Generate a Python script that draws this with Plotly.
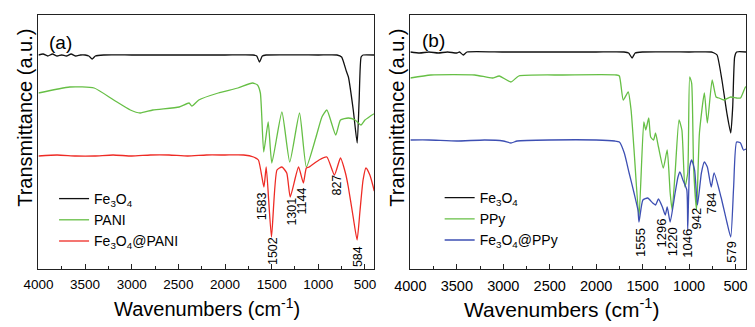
import plotly.graph_objects as go

# ---------------- Panel (a) data ----------------
a_fe_wn = [4000, 3950, 3900, 3850, 3800, 3750, 3700, 3650, 3600, 3550, 3500, 3460, 3424, 3390, 3300, 3000, 2500,
           2000, 1700, 1660, 1631, 1600, 1560, 1000, 800, 750, 700, 677, 625, 583, 562, 541, 520, 400]
a_fe_t = [214, 215, 213, 215, 213, 214, 213, 215, 213, 214, 214, 213, 210, 213, 214, 214, 214,
          214, 214, 213, 207, 213, 214, 214, 214, 212, 198, 192, 159, 126, 169, 212, 214, 214]

a_pani_wn = [4000, 3665, 3403, 3193, 3015, 2910, 2774, 2491, 2386, 2355, 2281, 2072, 1862, 1705, 1652, 1621,
             1585, 1537, 1498, 1390, 1306, 1201, 1128, 1024, 961, 908, 813, 762, 678, 605, 542, 500, 406, 400]
a_pani_t = [176, 182, 181, 169, 159, 156, 159, 162, 166, 163, 169, 176, 181, 186, 184, 176,
            117, 147, 106, 157, 107, 156, 102, 132, 152, 159, 134, 149, 151, 149, 144, 149, 155, 155]

a_comp_wn = [4000, 3800, 3600, 3400, 3200, 3000, 2800, 2600, 2400, 2200, 2000, 1800, 1694, 1642, 1583, 1558,
             1502, 1443, 1390, 1338, 1301, 1212, 1160, 1128, 1097, 992, 908, 827, 762, 709, 678, 626, 584,
             552, 520, 489, 447, 416, 400]
a_comp_t = [113, 114, 113, 113, 114, 113, 114, 114, 113, 114, 114, 114, 112, 109, 82, 102,
            32, 99, 102, 96, 72, 102, 86, 101, 102, 109, 112, 94, 111, 96, 82, 52, 29,
            59, 89, 101, 94, 84, 78]

a_peak_labels = ["1583", "1502", "1301", "1144", "827", "584"]
a_peak_wn = [1600, 1485, 1286, 1170, 804, 573]
a_peak_t = [63, 18, 57, 68, 84, 12]

# ---------------- Panel (b) data ----------------
b_fe_wn = [4000, 3900, 3800, 3700, 3600, 3500, 3470, 3432, 3390, 3000, 2500, 2000, 1700, 1650, 1613, 1580,
           1500, 1000, 760, 730, 698, 646, 593, 551, 530, 509, 488, 385]
b_fe_t = [217, 216, 217, 216, 217, 216, 217, 214, 217, 217, 217, 217, 217, 216, 211, 216,
          217, 217, 217, 216, 214, 189, 156, 136, 162, 212, 217, 217]

b_ppy_wn = [4000, 3779, 3306, 3117, 3043, 2917, 2833, 2360, 1781, 1750, 1708, 1655, 1624, 1592, 1539, 1487,
            1466, 1434, 1413, 1382, 1361, 1329, 1277, 1235, 1203, 1182, 1150, 1108, 1077, 1045, 1014, 993,
            972, 951, 919, 888, 835, 803, 751, 709, 677, 625, 551, 488, 446, 393, 385]
b_ppy_t = [191, 194, 194, 191, 193, 187, 193, 194, 194, 193, 169, 177, 159, 119, 52, 147,
           139, 151, 132, 129, 136, 122, 101, 119, 76, 59, 96, 149, 139, 82, 96, 192,
           186, 102, 59, 136, 176, 146, 189, 172, 171, 169, 172, 171, 171, 182, 182]

b_comp_wn = [4000, 3800, 3500, 3200, 3000, 2917, 2850, 2500, 2000, 1800, 1750, 1697, 1645, 1592, 1550, 1539,
             1497, 1445, 1392, 1361, 1329, 1287, 1256, 1235, 1203, 1150, 1119, 1098, 1066, 1024, 1014, 993,
             972, 940, 909, 867, 835, 803, 761, 730, 656, 593, 551, 520, 488, 446, 415, 385]
b_comp_t = [129, 129, 128, 129, 128, 126, 128, 129, 129, 128, 127, 116, 96, 76, 59, 47,
            69, 71, 66, 64, 70, 62, 54, 62, 47, 76, 92, 97, 89, 79, 39, 102,
            109, 99, 64, 96, 107, 102, 82, 96, 72, 47, 32, 82, 127, 126, 119, 120]

b_peak_labels = ["1555", "1296", "1220", "1046", "942", "784", "579"]
b_peak_wn = [1518, 1287, 1171, 1014, 919, 751, 541]
b_peak_t = [27, 36, 27, 26, 50, 66, 17]

x_ticks = [4000, 3500, 3000, 2500, 2000, 1500, 1000, 500]

# ---------------- Styling ----------------
FONT = "Arial, Liberation Sans, sans-serif"
C_BLACK = "#111111"
C_GREEN = "#66bf45"
C_RED = "#ee2b25"
C_BLUE = "#3d4fb3"
LW = 1.3
W, H = 755, 327


def px(v, total):
    return v / total


fig = go.Figure()

traces = [
    (a_fe_wn, a_fe_t, "Fe<sub>3</sub>O<sub>4</sub>", C_BLACK, "x", "y", "legend"),
    (a_pani_wn, a_pani_t, "PANI", C_GREEN, "x", "y", "legend"),
    (a_comp_wn, a_comp_t, "Fe<sub>3</sub>O<sub>4</sub>@PANI", C_RED, "x", "y", "legend"),
    (b_fe_wn, b_fe_t, "Fe<sub>3</sub>O<sub>4</sub>", C_BLACK, "x2", "y2", "legend2"),
    (b_ppy_wn, b_ppy_t, "PPy", C_GREEN, "x2", "y2", "legend2"),
    (b_comp_wn, b_comp_t, "Fe<sub>3</sub>O<sub>4</sub>@PPy", C_BLUE, "x2", "y2", "legend2"),
]
for xs, ys, name, col, xa, ya, lg in traces:
    fig.add_trace(go.Scatter(x=xs, y=ys, mode="lines", name=name, xaxis=xa, yaxis=ya, legend=lg,
                             line=dict(color=col, width=LW, shape="spline", smoothing=0.5)))

annotations = []
for lab, xv, yv in zip(a_peak_labels, a_peak_wn, a_peak_t):
    annotations.append(dict(x=xv, y=yv, xref="x", yref="y", text=lab, showarrow=False, textangle=-90,
                            font=dict(family=FONT, size=12.5, color="black")))
for lab, xv, yv in zip(b_peak_labels, b_peak_wn, b_peak_t):
    annotations.append(dict(x=xv, y=yv, xref="x2", yref="y2", text=lab, showarrow=False, textangle=-90,
                            font=dict(family=FONT, size=13, color="black")))

# panel letters
annotations.append(dict(x=px(32, W), y=1 - px(42, H), xref="paper", yref="paper", text="(a)", showarrow=False,
                        xanchor="left", yanchor="middle", font=dict(family=FONT, size=19, color="black")))
annotations.append(dict(x=px(414, W), y=1 - px(41, H), xref="paper", yref="paper", text="(b)", showarrow=False,
                        xanchor="left", yanchor="middle", font=dict(family=FONT, size=19, color="black")))
# y titles
for xc in (9, 390):
    annotations.append(dict(x=px(xc, W), y=1 - px(118, H), xref="paper", yref="paper",
                            text="Transmittance (a.u.)", showarrow=False, textangle=-90,
                            xanchor="center", yanchor="middle", font=dict(family=FONT, size=20, color="black")))
# x titles
annotations.append(dict(x=px(196, W), y=1 - px(307, H), xref="paper", yref="paper",
                        text="Wavenumbers (cm<sup>-1</sup>)", showarrow=False,
                        xanchor="center", yanchor="middle", font=dict(family=FONT, size=20, color="black")))
annotations.append(dict(x=px(559, W), y=1 - px(308, H), xref="paper", yref="paper",
                        text="Wavenumbers (cm<sup>-1</sup>)", showarrow=False,
                        xanchor="center", yanchor="middle", font=dict(family=FONT, size=21, color="black")))

xaxis_common = dict(
    tickmode="array", tickvals=x_ticks, ticks="inside", ticklen=5, tickwidth=1.2, tickcolor="#222",
    showline=True, linecolor="#222", linewidth=1.4, mirror=True, showgrid=False, zeroline=False,
    minor=dict(ticks="inside", ticklen=3, tickwidth=1, tickcolor="#222", dtick=250, tick0=0, showgrid=False),
    ticklabelstandoff=3,
)
yaxis_common = dict(range=[0, 254], showticklabels=False, ticks="", showline=True, linecolor="#222",
                    linewidth=1.4, mirror=True, showgrid=False, zeroline=False, fixedrange=True)

ydom = [1 - px(269, H), 1 - px(15, H)]

fig.update_layout(
    width=W, height=H, margin=dict(l=0, r=0, t=0, b=0),
    paper_bgcolor="white", plot_bgcolor="white",
    font=dict(family=FONT, color="black"),
    xaxis=dict(domain=[px(23, W), px(367, W)], range=[4000, 400], anchor="y",
               tickfont=dict(family=FONT, size=13.5, color="black"), **xaxis_common),
    yaxis=dict(domain=ydom, anchor="x", **yaxis_common),
    xaxis2=dict(domain=[px(404, W), px(748, W)], range=[4000, 385], anchor="y2",
                tickfont=dict(family=FONT, size=14.5, color="black"), **xaxis_common),
    yaxis2=dict(domain=ydom, anchor="x2", **yaxis_common),
    legend=dict(x=px(39, W), y=1 - px(183, H), xanchor="left", yanchor="top", bgcolor="rgba(0,0,0,0)",
                font=dict(family=FONT, size=14, color="black"), tracegroupgap=0, itemwidth=30),
    legend2=dict(x=px(434, W), y=1 - px(182, H), xanchor="left", yanchor="top", bgcolor="rgba(0,0,0,0)",
                 font=dict(family=FONT, size=14, color="black"), tracegroupgap=0, itemwidth=30),
    annotations=annotations,
    showlegend=True,
)

fig.write_html("out.html")
